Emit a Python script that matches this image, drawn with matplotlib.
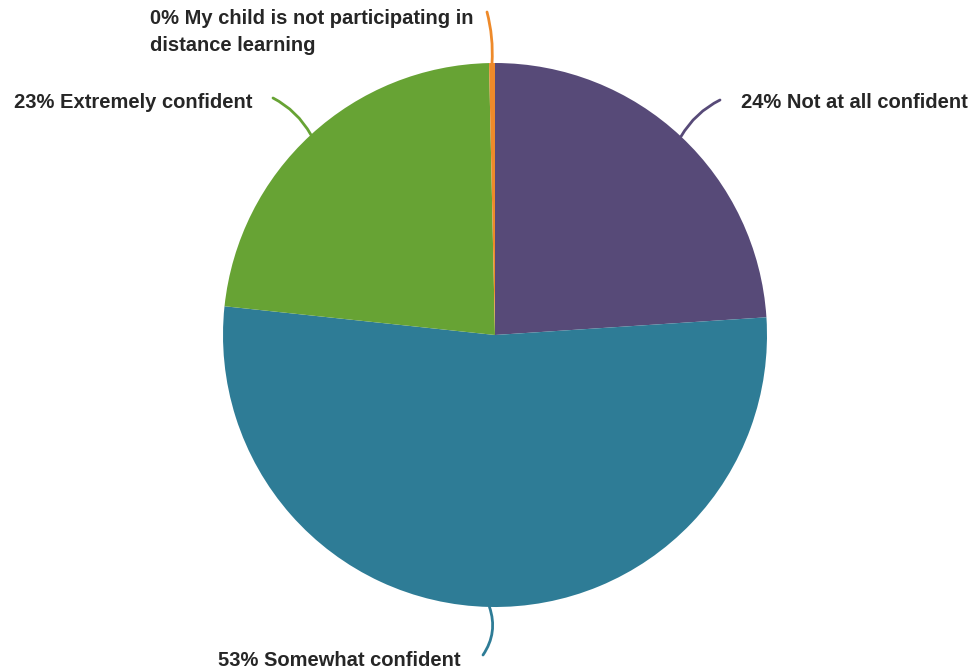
import numpy as np
import matplotlib
matplotlib.use("Agg")
import matplotlib.pyplot as plt

''' data '''
labels = ["24% Not at all confident", "53% Somewhat confident",
          "23% Extremely confident",
          "0% My child is not participating in\ndistance learning"]
values = [24.0, 52.8, 23.0, 0.35]
colors = ["#574a78", "#2e7c96", "#67a334", "#ee8a2a"]

''' figure in pixel units '''
W, H = 974, 672
fig = plt.figure(figsize=(W / 100, H / 100), dpi=100)
ax = fig.add_axes([0, 0, 1, 1])
cx, cy, R = 495, H - 335, 272

wedges, _ = ax.pie(values, colors=colors, startangle=90, counterclock=False,
                   center=(cx, cy), radius=R,
                   wedgeprops=dict(linewidth=0))
ax.set_xlim(0, W)
ax.set_ylim(0, H)
ax.set_aspect("equal")
ax.axis("off")

# label anchors (pixel coords, y from top) and leader ends
text_pos = [(741, 103, "left"), (218, 660, "left"), (252, 103, "right"), (150, 32, "left")]
leader_end = [(720, 100), (483, 655), (273, 98), (487, 12)]
rads = [-0.15, -0.25, 0.15, 0.08]

for w, lab, col, (tx, ty, ha), (ex, ey), rd in zip(wedges, labels, colors, text_pos, leader_end, rads):
    ang = np.deg2rad((w.theta1 + w.theta2) / 2)
    sx, sy = cx + R * np.cos(ang), cy + R * np.sin(ang)
    ax.annotate("", xy=(ex, H - ey), xytext=(sx, sy),
                arrowprops=dict(arrowstyle="-", color=col, lw=2,
                                connectionstyle="arc3,rad=%s" % rd,
                                shrinkA=0, shrinkB=0))
    ax.text(tx, H - ty, lab, ha=ha, va="center", fontsize=14.5,
            fontweight="bold", family="Liberation Sans", color="#262626",
            linespacing=1.55)

fig.savefig("out.png", dpi=100, facecolor="white")
